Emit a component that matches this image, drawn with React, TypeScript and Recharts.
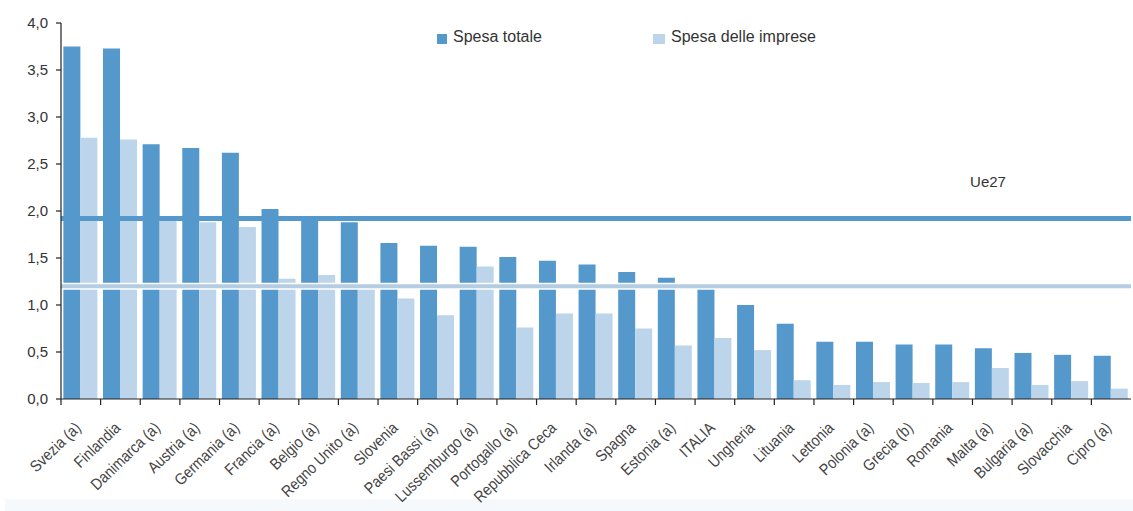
import React from 'react';
import { BarChart, Bar, XAxis, YAxis, ReferenceLine } from 'recharts';

const countries = [
  'Svezia (a)', 'Finlandia', 'Danimarca (a)', 'Austria (a)', 'Germania (a)', 'Francia (a)',
  'Belgio (a)', 'Regno Unito (a)', 'Slovenia', 'Paesi Bassi (a)', 'Lussemburgo (a)',
  'Portogallo (a)', 'Repubblica Ceca', 'Irlanda (a)', 'Spagna', 'Estonia (a)', 'ITALIA',
  'Ungheria', 'Lituania', 'Lettonia', 'Polonia (a)', 'Grecia (b)', 'Romania', 'Malta (a)',
  'Bulgaria (a)', 'Slovacchia', 'Cipro (a)',
];
const spesaTotale = [
  3.75, 3.73, 2.71, 2.67, 2.62, 2.02, 1.92, 1.88, 1.66, 1.63, 1.62, 1.51, 1.47, 1.43,
  1.35, 1.29, 1.23, 1.0, 0.8, 0.61, 0.61, 0.58, 0.58, 0.54, 0.49, 0.47, 0.46,
];
const spesaImprese = [
  2.78, 2.76, 1.9, 1.88, 1.83, 1.28, 1.32, 1.22, 1.07, 0.89, 1.41, 0.76, 0.91, 0.91,
  0.75, 0.57, 0.65, 0.52, 0.2, 0.15, 0.18, 0.17, 0.18, 0.33, 0.15, 0.19, 0.11,
];
const yTicks = [0, 0.5, 1, 1.5, 2, 2.5, 3, 3.5, 4];
const ue27Totale = 1.92;
const ue27Imprese = 1.2;
const seriesNames = ['Spesa totale', 'Spesa delle imprese'];
const refLabel = 'Ue27';

const DARK = '#5598cc';
const LIGHT = '#bcd5ea';
const FONT = '"Liberation Sans", Arial, sans-serif';

const data = countries.map((c, i) => ({
  name: c,
  totale: spesaTotale[i],
  imprese: spesaImprese[i],
}));

const XTick = (props: any) => {
  const { x, y, payload } = props;
  const off = payload && payload.offset ? payload.offset : 19.8;
  return (
    <g>
      <line x1={x - off} x2={x - off} y1={y} y2={y + 6} stroke="#222" strokeWidth={1.2} />
      <text
        transform={`translate(${x + 1},${y + 30}) rotate(-44) scale(0.88,1)`}
        textAnchor="end"
        fontSize={16}
        fontFamily={FONT}
        fill="#444"
      >
        {payload.value}
      </text>
    </g>
  );
};

const UeLabel = (props: any) => {
  const vb = props.viewBox || { x: 0, y: 0, width: 0 };
  return (
    <text
      x={vb.x + vb.width - 143}
      y={vb.y - 32}
      textAnchor="middle"
      fontSize={15}
      fontFamily={FONT}
      fill="#333"
    >
      {refLabel}
    </text>
  );
};

export default function App() {
  return (
    <div style={{ position: 'absolute', left: 0, top: 0, width: 1133, height: 511, background: '#fff' }}>
      <div style={{ position: 'absolute', left: 5, top: 499, width: 1128, height: 12, background: '#f6f9fc' }} />
      <BarChart
        width={1133}
        height={511}
        data={data}
        margin={{ top: 23, right: 2, left: 0, bottom: 0 }}
        barCategoryGap="6%"
        barGap={0}
      >
        <XAxis
          dataKey="name"
          interval={0}
          height={112}
          tickSize={0}
          tickMargin={0}
          tickLine={false}
          axisLine={{ stroke: '#222', strokeWidth: 1.2 }}
          tick={<XTick />}
        />
        <YAxis
          width={61}
          domain={[0, 4]}
          ticks={yTicks}
          interval={0}
          tickSize={5}
          tickMargin={8}
          axisLine={{ stroke: '#222', strokeWidth: 1.2 }}
          tickLine={{ stroke: '#222', strokeWidth: 1.2 }}
          tick={{ fontSize: 15, fontFamily: FONT, fill: '#333' }}
          tickFormatter={(v: number) => v.toFixed(1).replace('.', ',')}
        />
        <Bar dataKey="totale" name={seriesNames[0]} fill={DARK} isAnimationActive={false} />
        <Bar dataKey="imprese" name={seriesNames[1]} fill={LIGHT} isAnimationActive={false} />
        <ReferenceLine y={ue27Totale} stroke={DARK} strokeWidth={5} label={<UeLabel />} />
        <ReferenceLine y={ue27Imprese} stroke="#ffffff" strokeWidth={7} />
        <ReferenceLine y={ue27Imprese} stroke="#b4cde2" strokeWidth={4} />
      </BarChart>
      <div style={{ position: 'absolute', left: 437, top: 28, width: 420, height: 24, fontFamily: FONT, fontSize: 16, color: '#333' }}>
        <div style={{ position: 'absolute', left: 0, top: 6, width: 10, height: 10, background: DARK }} />
        <div style={{ position: 'absolute', left: 16, top: 0, whiteSpace: 'nowrap' }}>{seriesNames[0]}</div>
        <div style={{ position: 'absolute', left: 216, top: 6, width: 12, height: 10, background: LIGHT }} />
        <div style={{ position: 'absolute', left: 234, top: 0, whiteSpace: 'nowrap' }}>{seriesNames[1]}</div>
      </div>
    </div>
  );
}
